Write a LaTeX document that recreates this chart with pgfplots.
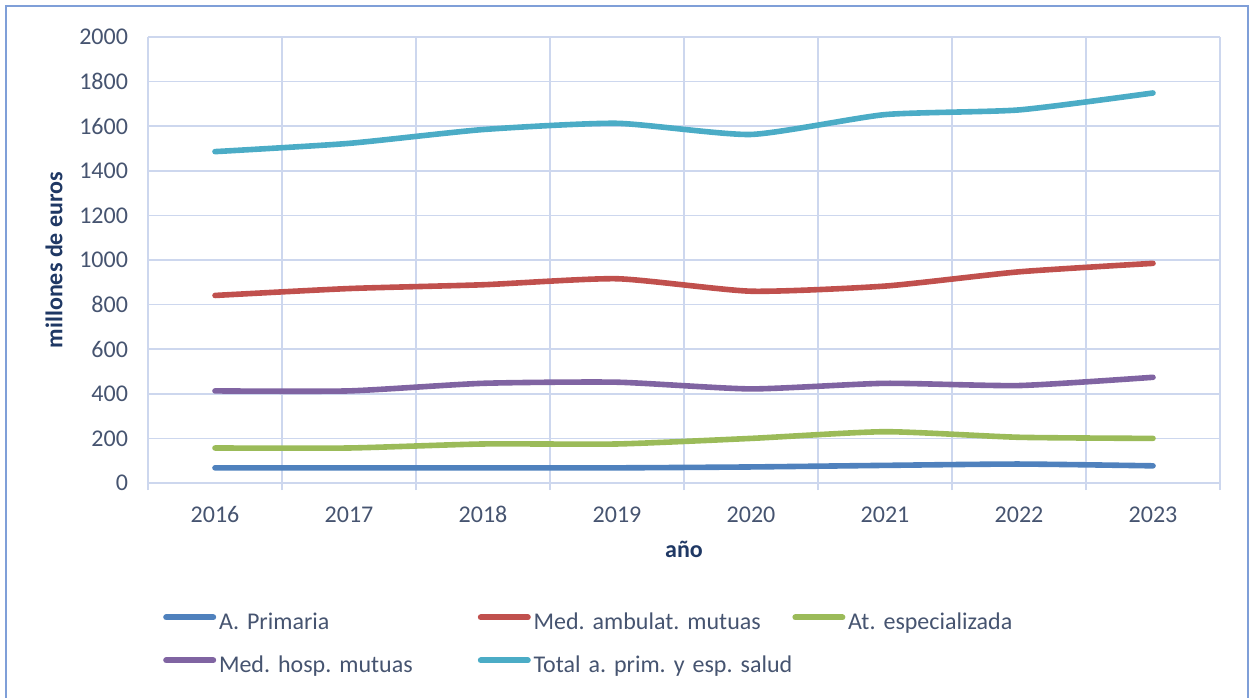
\documentclass[border=0pt]{standalone}
\usepackage{fontspec}
\setmainfont{Carlito}
\usepackage{pgfplots}
\pgfplotsset{compat=1.18}
\definecolor{cblue}{HTML}{4F81BD}
\definecolor{cred}{HTML}{C0504D}
\definecolor{cgreen}{HTML}{9BBB59}
\definecolor{cpurple}{HTML}{8064A2}
\definecolor{ccyan}{HTML}{4BACC6}
\definecolor{gridc}{HTML}{CDD7EE}
\definecolor{tickc}{HTML}{465470}
\definecolor{labc}{HTML}{1F3864}
\definecolor{borderc}{HTML}{7F9FD8}
\frenchspacing
\begin{document}
\begin{tikzpicture}[x=1pt,y=1pt]
\useasboundingbox (0,0) rectangle (627,348.5);
\draw[color=borderc, line width=1pt] (3,-3) -- (3,345.5) -- (624,345.5) -- (624,-3);
\begin{axis}[
  at={(74pt,107pt)}, anchor=south west,
  scale only axis, width=536pt, height=223pt,
  xmin=-0.5, xmax=7.5, ymin=0, ymax=2000,
  xtick={0,...,7},
  xticklabels={2016,2017,2018,2019,2020,2021,2022,2023},
  minor xtick={-0.5,0.5,...,7.5},
  ytick={0,200,...,2000},
  ymajorgrids=true, xminorgrids=true,
  grid style={draw=gridc, line width=0.8pt},
  minor grid style={draw=gridc, line width=0.8pt},
  axis line style={draw=none},
  major tick length=0pt, minor tick length=3.5pt,
  tick align=outside, xtick pos=lower, ytick pos=left,
  minor tick style={draw=gridc, line width=0.8pt},
  /pgf/number format/assume math mode=true,
  /pgf/number format/set thousands separator={},
  tick label style={font=\fontsize{12}{14.4}\selectfont, color=tickc},
  xticklabel style={anchor=base, yshift=-19.5pt},
  yticklabel style={anchor=east, xshift=-6.5pt},
  every axis y label/.style={at={(axis description cs:-0.0877,0.5)}, rotate=90, anchor=center},
  every axis x label/.style={at={(axis description cs:0.5,-0.150)}, anchor=center},
  label style={font=\fontsize{12}{14.4}\selectfont\bfseries, color=labc},
  ylabel={millones de euros},
  xlabel={año},
  legend columns=3,
  legend cell align=left,
  legend style={at={(axis description cs:0.0112,-0.287)}, anchor=north west,
    draw=none, fill=none, inner sep=0pt, row sep=9.5pt,
    font=\fontsize{12}{14.4}\selectfont\frenchspacing, text=tickc,
    nodes={inner xsep=0pt, inner ysep=0pt, text height=9pt, text depth=3pt, text width=128pt, align=left}},
  legend image code/.code={\path (0pt,0pt) (26.5pt,0pt);
    \draw[#1, line width=3pt, line cap=round] (1.5pt,3pt) -- (25pt,3pt);},
  every axis plot/.append style={line width=2.8pt, line cap=round, line join=round, smooth, tension=0.35},
]
\addplot[color=cblue] coordinates {(0,68) (1,68) (2,68) (3,68) (4,72) (5,79) (6,85) (7,77)};
\addlegendentry{\mbox{A. Primaria}}
\addplot[color=cred] coordinates {(0,841) (1,872) (2,889) (3,916) (4,860) (5,883) (6,947) (7,985)};
\addlegendentry{\mbox{Med. ambulat. mutuas}}
\addplot[color=cgreen] coordinates {(0,157) (1,157) (2,175) (3,175) (4,200) (5,230) (6,205) (7,200)};
\addlegendentry{\mbox{At. especializada}}
\addplot[color=cpurple] coordinates {(0,413) (1,413) (2,447) (3,452) (4,422) (5,447) (6,437) (7,474)};
\addlegendentry{\mbox{Med. hosp. mutuas}}
\addplot[color=ccyan] coordinates {(0,1486) (1,1523) (2,1585) (3,1613) (4,1563) (5,1652) (6,1673) (7,1749)};
\addlegendentry{\mbox{Total a. prim. y esp. salud}}
\end{axis}
\end{tikzpicture}
\end{document}
